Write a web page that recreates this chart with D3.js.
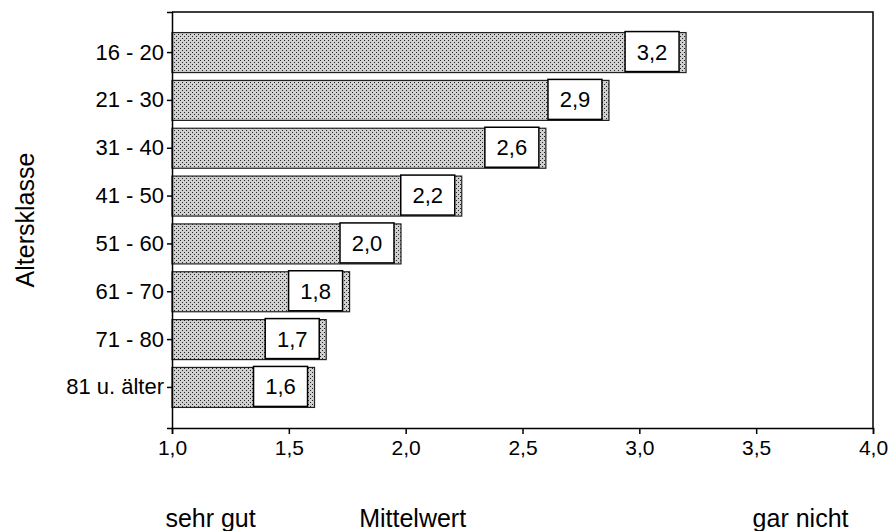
<!DOCTYPE html>
<html><head><meta charset="utf-8">
<script src="https://cdn.jsdelivr.net/npm/d3@7"></script>
<style>body{margin:0;background:#fff}svg text{font-family:Arial,"Liberation Sans",sans-serif;fill:#000}</style>
</head><body><svg id="c" width="892" height="531"></svg>
<script>
const categories = ["16 - 20","21 - 30","31 - 40","41 - 50","51 - 60","61 - 70","71 - 80","81 u. älter"];
const values = [3.2, 2.87, 2.6, 2.24, 1.98, 1.76, 1.66, 1.61];
const valueLabels = ["3,2","2,9","2,6","2,2","2,0","1,8","1,7","1,6"];
const xTicks = [1.0,1.5,2.0,2.5,3.0,3.5,4.0];
const yTitle = "Altersklasse";
const bottomLabels = [{t:"sehr gut",v:1.165},{t:"Mittelwert",v:2.03},{t:"gar nicht",v:3.69}];

const svg = d3.select("#c");
const L=172,R=873,T=12,B=428;
const x = d3.scaleLinear().domain([1,4]).range([L,R]);
const y = d3.scaleBand().domain(categories).range([T,B]).paddingInner(0.164).paddingOuter(0.43);
const fmt = d => d.toFixed(1).replace(".",",");

const defs = svg.append("defs");
const pat = defs.append("pattern").attr("id","dots").attr("width",4).attr("height",4).attr("patternUnits","userSpaceOnUse");
pat.append("rect").attr("width",4).attr("height",4).attr("fill","#d0d0d0");
pat.append("rect").attr("x",0).attr("y",0).attr("width",1).attr("height",1).attr("fill","#222");
pat.append("rect").attr("x",2).attr("y",2).attr("width",1).attr("height",1).attr("fill","#222");

// frame
svg.append("path").attr("d",`M${L},${T}H${R}V${B}`).attr("fill","none").attr("stroke","#000").attr("stroke-width",1.5);

// bars
const g = svg.append("g");
g.selectAll("rect.bar").data(values).join("rect").attr("class","bar")
  .attr("x",x(1)).attr("y",(d,i)=>y(categories[i]))
  .attr("width",d=>x(d)-x(1)).attr("height",y.bandwidth())
  .attr("fill","url(#dots)").attr("stroke","#222").attr("stroke-width",1.2);
g.selectAll("rect.box").data(values).join("rect").attr("class","box")
  .attr("x",d=>x(d)-61).attr("y",(d,i)=>y(categories[i])-1)
  .attr("width",54).attr("height",y.bandwidth())
  .attr("fill","#fff").attr("stroke","#000").attr("stroke-width",1.5);
g.selectAll("text.val").data(values).join("text").attr("class","val")
  .attr("x",d=>x(d)-34).attr("y",(d,i)=>y(categories[i])+y.bandwidth()/2+7)
  .attr("text-anchor","middle").attr("font-size",22).text((d,i)=>valueLabels[i]);

// axes
const xa = svg.append("g").attr("transform",`translate(0,${B})`)
  .call(d3.axisBottom(x).tickValues(xTicks).tickFormat(fmt).tickSize(6).tickPadding(6));
xa.selectAll("text").attr("font-size",21).attr("font-family","Arial, Liberation Sans, sans-serif");
xa.select(".domain").attr("stroke-width",1.5);
xa.selectAll(".tick line").attr("stroke-width",1.5);

const ya = svg.append("g").attr("transform",`translate(${L},0)`)
  .call(d3.axisLeft(y).tickSize(5).tickPadding(3));
ya.selectAll("text").attr("font-size",22).attr("font-family","Arial, Liberation Sans, sans-serif");
ya.select(".domain").attr("stroke-width",1.5);
ya.selectAll(".tick line").attr("stroke-width",1.5);

svg.append("text").attr("transform",`translate(34,220) rotate(-90)`).attr("text-anchor","middle")
  .attr("font-size",25).text(yTitle);

svg.selectAll("text.bl").data(bottomLabels).join("text").attr("class","bl")
  .attr("x",d=>x(d.v)).attr("y",527).attr("text-anchor","middle").attr("font-size",25).text(d=>d.t);
</script></body></html>
